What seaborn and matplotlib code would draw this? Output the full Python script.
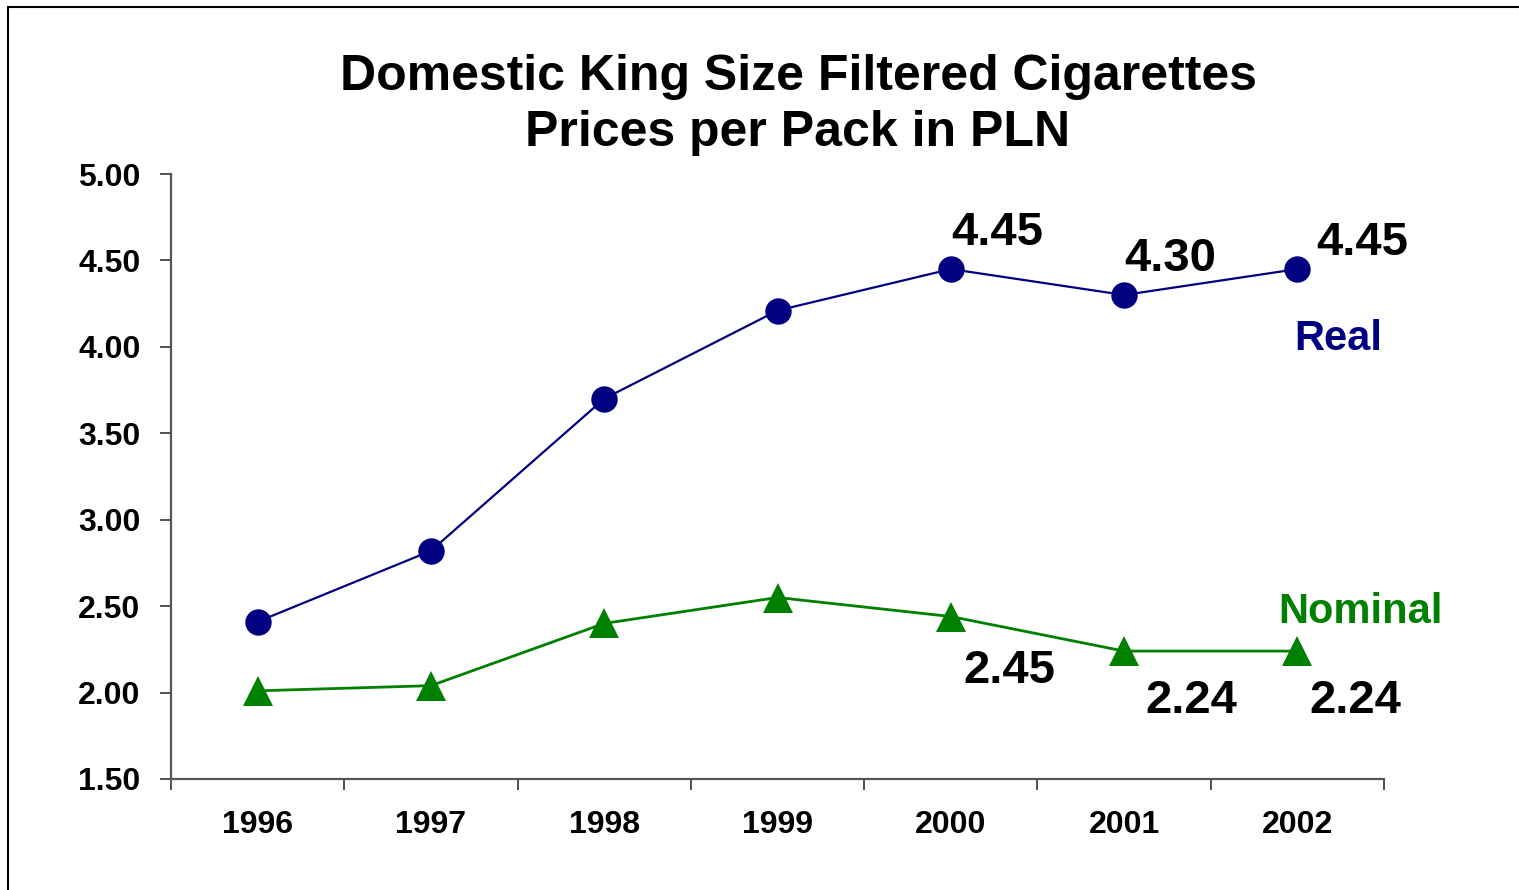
import matplotlib
matplotlib.use("Agg")
import matplotlib.pyplot as plt
import seaborn as sns
import pandas as pd
from matplotlib.patches import Rectangle

years = ["1996", "1997", "1998", "1999", "2000", "2001", "2002"]
real = [2.41, 2.82, 3.70, 4.21, 4.45, 4.30, 4.45]
nominal = [2.01, 2.04, 2.40, 2.55, 2.44, 2.24, 2.24]
yticks = [1.50, 2.00, 2.50, 3.00, 3.50, 4.00, 4.50, 5.00]
real_labels = {4: "4.45", 5: "4.30", 6: "4.45"}
nominal_labels = {4: "2.45", 5: "2.24", 6: "2.24"}

sns.set_theme(style="white")
plt.rcParams['font.family'] = ['Liberation Sans', 'DejaVu Sans']
plt.rcParams['text.color'] = 'black'
plt.rcParams['xtick.color'] = 'black'
plt.rcParams['ytick.color'] = 'black'

fig = plt.figure(figsize=(15.19, 8.9), dpi=100)
ax = fig.add_axes([171/1519, 1-779/890, (1384-171)/1519, (779-174)/890])

df = pd.DataFrame({"pos": list(range(len(years))), "Real": real, "Nominal": nominal})

sns.lineplot(data=df, x="pos", y="Real", ax=ax, color="#000080", linewidth=1.6,
             marker="o", markersize=19, markeredgewidth=0, markerfacecolor="#000080")
sns.lineplot(data=df, x="pos", y="Nominal", ax=ax, color="#008000", linewidth=2.0,
             marker="^", markersize=21, markeredgewidth=0, markerfacecolor="#008000")

ax.set_xlim(-0.5, len(years) - 0.5)
ax.set_ylim(1.5, 5.0)
ax.set_xlabel("")
ax.set_ylabel("")

# ticks at category boundaries, labels at centers
ax.set_xticks([i - 0.5 for i in range(len(years) + 1)])
ax.set_xticklabels([])
ax.set_xticks(list(range(len(years))), minor=True)
ax.set_xticklabels(years, minor=True, fontsize=23, fontweight="bold")
ax.tick_params(axis="x", which="major", direction="out", length=8, width=1.2, color="#333333", bottom=True)
ax.tick_params(axis="x", which="minor", length=0, pad=22)

ax.set_yticks(yticks)
ax.set_yticklabels([f"{v:.2f}" for v in yticks], fontsize=23, fontweight="bold")
ax.tick_params(axis="y", direction="out", length=8, width=1.2, color="#333333", left=True, pad=14)

for s in ["top", "right"]:
    ax.spines[s].set_visible(False)
for s in ["left", "bottom"]:
    ax.spines[s].set_color("#555555")
    ax.spines[s].set_linewidth(1.6)

# value labels
real_offsets = {4: (0, 24), 5: (0, 24), 6: (19, 14)}
for i, t in real_labels.items():
    ax.annotate(t, (i, real[i]), xytext=real_offsets[i], textcoords="offset pixels",
                ha="left", va="baseline", fontsize=34, fontweight="bold", color="black")
nom_offsets = {4: (13, -66), 5: (21, -62), 6: (12, -62)}
for i, t in nominal_labels.items():
    ax.annotate(t, (i, nominal[i]), xytext=nom_offsets[i], textcoords="offset pixels",
                ha="left", va="baseline", fontsize=34, fontweight="bold", color="black")

ax.text(5.98, 3.98, "Real", ha="left", va="baseline", fontsize=30, fontweight="bold", color="#000080")
ax.text(5.89, 2.40, "Nominal", ha="left", va="baseline", fontsize=30, fontweight="bold", color="#008000")

fig.text(798/1519, 1-90/890, "Domestic King Size Filtered Cigarettes", ha="center", va="baseline",
         fontsize=36, fontweight="bold", color="black")
fig.text(798/1519, 1-146/890, "Prices per Pack in PLN", ha="center", va="baseline",
         fontsize=36, fontweight="bold", color="black")

# outer frame
fig.patches.append(Rectangle((8/1519, -0.1), 1.2, 1 - 7/890 + 0.1, transform=fig.transFigure,
                             fill=False, edgecolor="black", linewidth=1.5))

fig.savefig("out.png", dpi=100)
